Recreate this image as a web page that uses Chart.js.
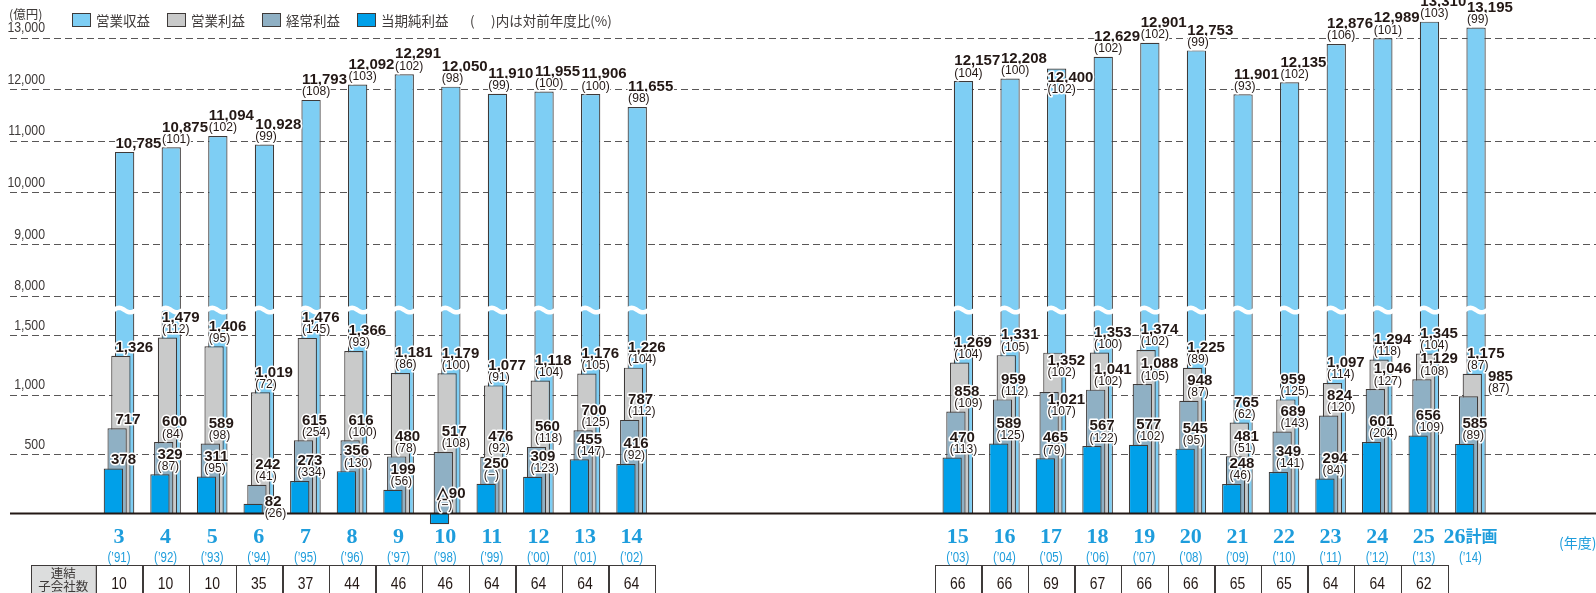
<!DOCTYPE html>
<html><head><meta charset="utf-8">
<script src="https://cdn.jsdelivr.net/npm/chart.js@4.4.1/dist/chart.umd.min.js"></script>
<style>html,body{margin:0;padding:0;background:#fff}#wrap{position:relative;width:1596px;height:593px}</style>
</head><body><div id="wrap"><canvas id="c"></canvas></div>
<script>
// ---------------- data ----------------
const fiscalYears = ['3','4','5','6','7','8','9','10','11','12','13','14','15','16','17','18','19','20','21','22','23','24','25','26計画'];
const calendarYears = ['(’91)','(’92)','(’93)','(’94)','(’95)','(’96)','(’97)','(’98)','(’99)','(’00)','(’01)','(’02)','(’03)','(’04)','(’05)','(’06)','(’07)','(’08)','(’09)','(’10)','(’11)','(’12)','(’13)','(’14)'];
const revenue = [10785,10875,11094,10928,11793,12092,12291,12050,11910,11955,11906,11655,12157,12208,12400,12629,12901,12753,11901,12135,12876,12989,13310,13195];
const revenueYoY = [null,101,102,99,108,103,102,98,99,100,100,98,104,100,102,102,102,99,93,102,106,101,103,99];
const operatingProfit = [1326,1479,1406,1019,1476,1366,1181,1179,1077,1118,1176,1226,1269,1331,1352,1353,1374,1225,765,959,1097,1294,1345,1175];
const operatingProfitYoY = [null,112,95,72,145,93,86,100,91,104,105,104,104,105,102,100,102,89,62,125,114,118,104,87];
const ordinaryProfit = [717,600,589,242,615,616,480,517,476,560,700,787,858,959,1021,1041,1088,948,481,689,824,1046,1129,985];
const ordinaryProfitYoY = [null,84,98,41,254,100,78,108,92,118,125,112,109,112,107,102,105,87,51,143,120,127,108,87];
const netIncome = [378,329,311,82,273,356,199,-90,250,309,455,416,470,589,465,567,577,545,248,349,294,601,656,585];
const netIncomeYoY = [null,87,95,26,334,130,56,'−','−',123,147,92,113,125,79,122,102,95,46,141,84,204,109,89];
const subsidiaries = [10,10,10,35,37,44,46,46,64,64,64,64,66,66,69,67,66,66,65,65,64,64,62,null];
const yTicks = [0,500,1000,1500,8000,9000,10000,11000,12000,13000];

// ---------------- layout helpers ----------------
const LEAD = 2, GAP = 6, TRAIL = 2, SPLIT = 12;
function expand(arr){ return [...Array(LEAD).fill(null), ...arr.slice(0,SPLIT), ...Array(GAP).fill(null), ...arr.slice(SPLIT), ...Array(TRAIL).fill(null)]; }
const yearIdx = expand(fiscalYears.map((_,i)=>i));
const labels = expand(fiscalYears).map(v => v === null ? '' : v);

// broken (two-segment) linear scale
const BREAK = { low: 1710, high: 7719, ratio: 2.306 };
class BrokenScale extends Chart.LinearScale {
  _u(v){ return v <= BREAK.low ? v * BREAK.ratio : BREAK.low * BREAK.ratio + (v - BREAK.high); }
  getPixelForValue(value){
    const u0 = this._u(this.min), u1 = this._u(this.max);
    return this.getPixelForDecimal((this._u(value) - u0) / (u1 - u0));
  }
  getValueForPixel(pixel){
    const u0 = this._u(this.min), u1 = this._u(this.max);
    const u = u0 + this.getDecimalForPixel(pixel) * (u1 - u0);
    const ul = BREAK.low * BREAK.ratio;
    return u <= ul ? u / BREAK.ratio : (u - ul) + BREAK.high;
  }
}
BrokenScale.id = 'broken';
BrokenScale.defaults = Chart.LinearScale.defaults;
Chart.register(BrokenScale);

const SER = [
  {key:'net', label:'当期純利益', data:netIncome, yoy:netIncomeYoY, color:'#00a0e9', dx:-8},
  {key:'ord', label:'経常利益', data:ordinaryProfit, yoy:ordinaryProfitYoY, color:'#8fb0c4', dx:-3.5},
  {key:'op',  label:'営業利益', data:operatingProfit, yoy:operatingProfitYoY, color:'#c9caca', dx:-3.5},
  {key:'rev', label:'営業収益', data:revenue, yoy:revenueYoY, color:'#7ecef4', dx:-3.5}
];
const labelNudges = { 'net|6':[14,17.5], 'rev|17':[0,29], 'op|17':[0,28], 'ord|17':[0,27.5], 'ord|26計画':[21,0] };

const INK = '#3e3a39', TXT = '#231815', BLUE = '#1e9ddc';
const JP = '"Noto Sans CJK JP", "Noto Sans", sans-serif';
const SANS = '"Liberation Sans", Arial, sans-serif';

function txt(ctx, s, x, y, font, color, align, halo, sx){
  ctx.save(); ctx.font = font; ctx.textAlign = align || 'left'; ctx.textBaseline = 'middle';
  ctx.translate(x, y); ctx.scale(sx || 1, 1);
  if (halo){ ctx.lineJoin = 'round'; ctx.strokeStyle = '#fff'; ctx.lineWidth = halo; ctx.strokeText(s, 0, 0); }
  ctx.fillStyle = color; ctx.fillText(s, 0, 0); ctx.restore();
}
const fmt = v => (v < 0 ? '△' : '') + Math.abs(v).toLocaleString('en-US');

const decor = {
  id: 'decor',
  beforeDatasetsDraw(chart){
    const {ctx} = chart, y = chart.scales.y, W = chart.width;
    ctx.save(); ctx.strokeStyle = '#595757'; ctx.lineWidth = 1.2; ctx.setLineDash([7,4]);
    y.ticks.forEach(t => { if (t.value === 0) return; const py = Math.round(y.getPixelForValue(t.value)) + 0.5;
      ctx.beginPath(); ctx.moveTo(10, py); ctx.lineTo(W, py); ctx.stroke(); });
    ctx.restore();
    y.ticks.forEach(t => { if (t.value === 0) return;
      txt(ctx, t.value.toLocaleString('en-US'), 45, y.getPixelForValue(t.value) - 9.5, '15px ' + SANS, INK, 'right', 0, 0.82); });
    txt(ctx, '(億円)', 9, 14, '12.5px ' + JP, INK, 'left');
    let lx = 72;
    [...SER].reverse().forEach(s => {
      ctx.save(); ctx.fillStyle = s.color; ctx.fillRect(lx, 13, 19, 14);
      ctx.strokeStyle = INK; ctx.lineWidth = 1; ctx.strokeRect(lx + 0.5, 13.5, 18, 13); ctx.restore();
      ctx.font = '13.5px ' + JP; const w = ctx.measureText(s.label).width;
      txt(ctx, s.label, lx + 24, 20.5, '13.5px ' + JP, INK, 'left');
      lx += 24 + w + 17;
    });
    txt(ctx, '(　 )内は対前年度比(%)', 470, 20.5, '13.5px ' + JP, INK, 'left');
  },
  afterDatasetsDraw(chart){
    const {ctx} = chart, x = chart.scales.x, y = chart.scales.y, W = chart.width;
    const base = y.getPixelForValue(0);
    ctx.save(); ctx.strokeStyle = TXT; ctx.lineWidth = 2; ctx.beginPath(); ctx.moveTo(10, base); ctx.lineTo(W, base); ctx.stroke(); ctx.restore();
    const revMeta = chart.getDatasetMeta(3);
    const yb = y.getPixelForValue(BREAK.low);
    revMeta.data.forEach((el, i) => {
      if (chart.data.datasets[3].data[i] == null) return;
      const l = el.x - el.width/2 - 1.5, w = el.width + 3;
      ctx.save(); ctx.strokeStyle = '#fff'; ctx.lineWidth = 4.5; ctx.beginPath();
      for (let k = 0; k <= 24; k++){ const t = k/24; const px = l + t*w, py = yb - 2.2*Math.sin(2*Math.PI*t);
        k ? ctx.lineTo(px, py) : ctx.moveTo(px, py); }
      ctx.stroke(); ctx.restore();
    });
    [3,2,1,0].forEach(di => {
      const s = SER[di], meta = chart.getDatasetMeta(di);
      meta.data.forEach((el, i) => {
        const yi = yearIdx[i]; if (yi === null) return;
        const v = s.data[yi], r = s.yoy[yi];
        const cx = x.getPixelForValue(i);
        const top = Math.min(el.y, el.base);
        const nd = labelNudges[s.key + '|' + fiscalYears[yi]] || [0,0];
        const lx = cx + s.dx + nd[0];
        if (r === null){
          txt(ctx, fmt(v), lx, top - 8.5 + nd[1], 'bold 15.5px ' + SANS, TXT, 'left', 3, 0.97);
        } else {
          txt(ctx, fmt(v), lx, top - 20 + nd[1], 'bold 15.5px ' + SANS, TXT, 'left', 3, 0.97);
          txt(ctx, '(' + r + ')', lx, top - 8 + nd[1], '12.5px ' + SANS, TXT, 'left', 3, 0.97);
        }
      });
    });
    const half = (x.getPixelForValue(1) - x.getPixelForValue(0)) / 2;
    labels.forEach((lab, i) => {
      const yi = yearIdx[i]; if (yi === null) return;
      const cx = x.getPixelForValue(i);
      const m = lab.match(/^(\d+)(.*)$/);
      const numFont = 'bold 22px "Liberation Serif", "Times New Roman", serif';
      if (m[2]){
        ctx.font = numFont; const w1 = ctx.measureText(m[1]).width;
        const cjkFont = 'bold 16px ' + JP; ctx.font = cjkFont; const w2 = ctx.measureText(m[2]).width;
        const sx = cx - (w1 + w2)/2;
        txt(ctx, m[1], sx, 537, numFont, BLUE, 'left');
        txt(ctx, m[2], sx + w1, 536, cjkFont, BLUE, 'left');
      } else {
        txt(ctx, m[1], cx, 537, numFont, BLUE, 'center');
      }
      txt(ctx, calendarYears[yi], cx, 558.5, '14px ' + SANS, BLUE, 'center', 0, 0.82);
    });
    txt(ctx, '(年度)', 1559, 543, '14px ' + JP, BLUE, 'left');
    const tTop = 565.5, tBot = 603;
    ctx.save(); ctx.strokeStyle = INK; ctx.lineWidth = 1;
    const firstL = x.getPixelForValue(LEAD) - half;
    ctx.fillStyle = '#dcdddd'; ctx.fillRect(31, tTop, firstL - 31, tBot - tTop);
    ctx.strokeRect(31.5, tTop, firstL - 31, tBot - tTop);
    ctx.restore();
    txt(ctx, '連結', (31 + firstL)/2, 573, '12.5px ' + JP, INK, 'center');
    txt(ctx, '子会社数', (31 + firstL)/2, 586.5, '12.5px ' + JP, INK, 'center');
    labels.forEach((lab, i) => {
      const yi = yearIdx[i]; if (yi === null || subsidiaries[yi] == null) return;
      const cx = x.getPixelForValue(i);
      ctx.save(); ctx.strokeStyle = INK; ctx.lineWidth = 1;
      ctx.strokeRect(Math.round(cx - half) + 0.5, tTop, Math.round(2*half), tBot - tTop); ctx.restore();
      txt(ctx, String(subsidiaries[yi]), cx, 584, '17px ' + SANS, TXT, 'center', 0, 0.82);
    });
  }
};

new Chart(document.getElementById('c'), {
  type: 'bar',
  data: { labels, datasets: SER.map(s => ({
    label: s.label, data: expand(s.data), backgroundColor: s.color, borderColor: INK,
    borderWidth: 1.2, borderSkipped: 'start', categoryPercentage: 0.3236, barPercentage: 5.12, clip: false })) },
  options: {
    responsive: true, maintainAspectRatio: false, animation: false, events: [],
    layout: { padding: { left: 2.5, right: 9.1, top: 17, bottom: 79.5 } },
    plugins: { legend: { display: false }, tooltip: { enabled: false } },
    scales: {
      x: { grid: { display: false }, border: { display: false }, ticks: { display: false }, afterFit: s => { s.height = 0; } },
      y: { type: 'broken', min: 0, max: 13400, grid: { display: false }, border: { display: false }, ticks: { display: false },
           afterFit: s => { s.width = 0; }, afterBuildTicks: s => { s.ticks = yTicks.map(v => ({ value: v })); } }
    }
  },
  plugins: [decor]
});
</script></body></html>
